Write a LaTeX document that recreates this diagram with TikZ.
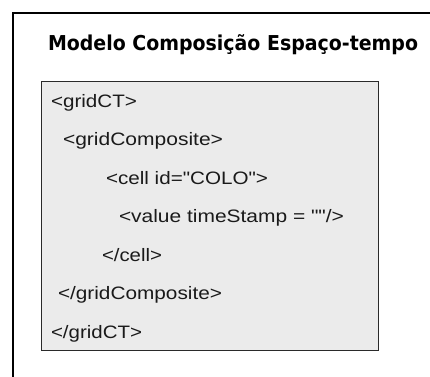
\documentclass[tikz,border=0pt]{standalone}
\usepackage{fontspec}
\newfontfamily\codefont{Liberation Sans}
\newfontfamily\titlefont{DejaVu Sans}
\usepackage{graphicx}
\definecolor{boxfill}{HTML}{EBEBEB}
\definecolor{boxline}{HTML}{2A2A2A}
\definecolor{txt}{HTML}{1A1A1A}
\newcommand{\fitw}[2]{\resizebox{#1pt}{\height}{#2}}
\tikzset{
  codeline/.style={anchor=base west, inner sep=0pt, outer sep=0pt, text=txt,
    font=\codefont\fontsize{18}{20}\selectfont},
  titletext/.style={anchor=base west, inner sep=0pt, outer sep=0pt, text=black,
    font=\titlefont\bfseries\fontsize{20.5}{24}\selectfont},
  codebox/.style={draw=boxline, line width=1.3pt, fill=boxfill, anchor=north west,
    inner sep=0pt, minimum width=336.5pt, minimum height=268.5pt},
  frame/.style={draw=black, line width=2pt}
}
\begin{document}
\begin{tikzpicture}[x=1pt,y=1pt]
\useasboundingbox[fill=white] (0,0) rectangle (430,-376);
\draw[frame] (12.5,-380) -- (12.5,-13) -- (434,-13);
\node[titletext] (title) at (48,-50) {\fitw{370}{Modelo Composição Espaço-tempo}};
\node[codebox] (box) at (41,-81) {};
\node[codeline] (l1) at (51,-107) {\fitw{86}{<gridCT>}};
\node[codeline] (l2) at (63,-145.5) {\fitw{160}{<gridComposite>}};
\node[codeline] (l3) at (106,-184) {\fitw{162}{<cell id="COLO">}};
\node[codeline] (l4) at (119,-222.5) {\fitw{225}{<value timeStamp = ""/>}};
\node[codeline] (l5) at (102,-261) {\fitw{60}{</cell>}};
\node[codeline] (l6) at (58,-299.5) {\fitw{164}{</gridComposite>}};
\node[codeline] (l7) at (51,-338) {\fitw{91}{</gridCT>}};
\end{tikzpicture}
\end{document}
